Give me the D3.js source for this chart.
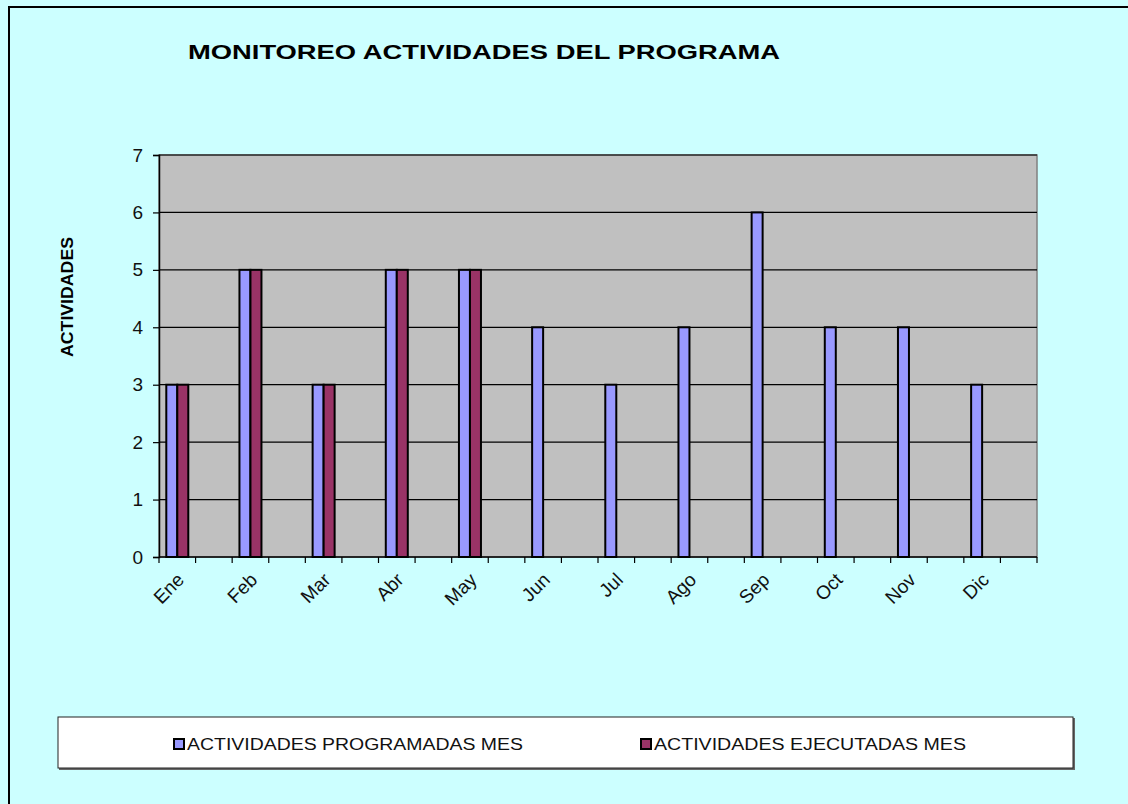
<!DOCTYPE html>
<html>
<head>
    <meta charset="UTF-8">
    <title>Monitoreo</title>
    <style>
        body { margin: 0; background-color: #FFFFFF; }
        svg { display: block; font-family: Arial, "Liberation Sans", sans-serif; }
    </style>
</head>
<body>
    <div id="graph-container"></div>
    <script src="https://cdn.jsdelivr.net/npm/d3@7/dist/d3.min.js"></script>
    <script>
        // data
        let months = ["Ene", "Feb", "Mar", "Abr", "May", "Jun", "Jul", "Ago", "Sep", "Oct", "Nov", "Dic"];
        let programadas = [3, 5, 3, 5, 5, 4, 3, 4, 6, 4, 4, 3];
        let ejecutadas = [3, 5, 3, 5, 5, 0, 0, 0, 0, 0, 0, 0];
        let yTicks = [0, 1, 2, 3, 4, 5, 6, 7];
        let seriesNames = ["ACTIVIDADES PROGRAMADAS MES", "ACTIVIDADES EJECUTADAS MES"];
        let colors = ["#9999FF", "#993366"];

        let W = 1128, H = 804;
        let plot = { left: 159, top: 155, right: 1037, bottom: 557 };

        let svg = d3.select("#graph-container").append("svg")
            .attr("width", W)
            .attr("height", H);

        // chart area background + frame
        svg.append("rect")
            .attr("x", 0).attr("y", 0).attr("width", W).attr("height", H)
            .attr("fill", "#CCFFFF");
        svg.append("path")
            .attr("d", "M9," + H + "V7H" + W)
            .attr("fill", "none").attr("stroke", "#000").attr("stroke-width", 2);

        // each month gets two slots, the second one left empty (like the original sheet)
        let slots = [];
        months.forEach(m => { slots.push(m); slots.push(m + "_"); });

        let x = d3.scaleBand()
            .domain(slots)
            .range([plot.left, plot.right]);
        let inner = d3.scaleBand()
            .domain([0, 1])
            .range([0, 22]);
        let y = d3.scaleLinear()
            .domain([0, 7])
            .range([plot.bottom, plot.top]);

        // plot area
        svg.append("rect")
            .attr("x", plot.left).attr("y", plot.top)
            .attr("width", plot.right - plot.left).attr("height", plot.bottom - plot.top)
            .attr("fill", "#C0C0C0")
            .attr("stroke", "#808080").attr("stroke-width", 1.5);

        // gridlines
        svg.append("g")
            .selectAll("line")
            .data(yTicks.filter(d => d > 0))
            .enter().append("line")
            .attr("x1", plot.left).attr("x2", plot.right)
            .attr("y1", d => y(d)).attr("y2", d => y(d))
            .attr("stroke", "#000").attr("stroke-width", 1.2);

        // bars
        let table = months.map((m, i) => ({ month: m, vals: [programadas[i], ejecutadas[i]] }));
        let groups = svg.append("g").selectAll("g")
            .data(table)
            .enter().append("g")
            .attr("transform", d => "translate(" + (x(d.month) + x.bandwidth() / 2 - 11) + ",0)");
        groups.selectAll("rect")
            .data(d => d.vals.map((v, k) => ({ v: v, k: k })).filter(e => e.v > 0))
            .enter().append("rect")
            .attr("x", e => inner(e.k))
            .attr("y", e => y(e.v))
            .attr("width", inner.bandwidth())
            .attr("height", e => y(0) - y(e.v))
            .attr("fill", e => colors[e.k])
            .attr("stroke", "#000")
            .attr("stroke-width", 2);

        // y axis
        let yAxis = svg.append("g")
            .attr("transform", "translate(" + plot.left + ",0)")
            .call(d3.axisLeft(y).tickValues(yTicks).tickSize(6).tickPadding(10).tickFormat(d3.format("d")));
        yAxis.select(".domain").attr("stroke", "#000").attr("stroke-width", 1.5);
        yAxis.selectAll(".tick line").attr("stroke", "#000").attr("stroke-width", 1.2);
        yAxis.selectAll("text").attr("font-size", 19).attr("fill", "#111").attr("font-family", "Arial, 'Liberation Sans'");

        // x axis
        let xAxis = svg.append("g")
            .attr("transform", "translate(0," + plot.bottom + ")");
        xAxis.append("line")
            .attr("x1", plot.left).attr("x2", plot.right)
            .attr("stroke", "#000").attr("stroke-width", 1.5);
        xAxis.selectAll(".xt")
            .data(slots.concat(["end"]))
            .enter().append("line")
            .attr("x1", d => d === "end" ? plot.right : x(d))
            .attr("x2", d => d === "end" ? plot.right : x(d))
            .attr("y1", 0).attr("y2", 6)
            .attr("stroke", "#000").attr("stroke-width", 1.2);
        xAxis.selectAll(".xl")
            .data(months)
            .enter().append("text")
            .attr("transform", d => "translate(" + (x(d) + x.bandwidth() / 2 + 8) + ",24) rotate(-45)")
            .attr("text-anchor", "end")
            .attr("font-size", 19)
            .attr("fill", "#111")
            .text(d => d);

        // title
        svg.append("text")
            .attr("x", 188).attr("y", 59)
            .attr("font-size", 21).attr("font-weight", "bold")
            .attr("textLength", 592).attr("lengthAdjust", "spacingAndGlyphs")
            .attr("fill", "#000")
            .text("MONITOREO ACTIVIDADES DEL PROGRAMA");

        // y title
        svg.append("text")
            .attr("transform", "translate(73,297) rotate(-90)")
            .attr("text-anchor", "middle")
            .attr("font-size", 17).attr("font-weight", "bold")
            .attr("textLength", 120).attr("lengthAdjust", "spacingAndGlyphs")
            .attr("fill", "#000")
            .text("ACTIVIDADES");

        // legend
        let leg = svg.append("g");
        leg.append("path")
            .attr("d", "M59,769H1074V718")
            .attr("fill", "none").attr("stroke", "#666").attr("stroke-width", 2);
        leg.append("rect")
            .attr("x", 58).attr("y", 717).attr("width", 1015).attr("height", 51)
            .attr("fill", "#FFFFFF").attr("stroke", "#222").attr("stroke-width", 1);
        let legX = [174, 641];
        let legLen = [336, 312];
        seriesNames.forEach((name, i) => {
            leg.append("rect")
                .attr("x", legX[i]).attr("y", 739)
                .attr("width", 10).attr("height", 10)
                .attr("fill", colors[i]).attr("stroke", "#000").attr("stroke-width", 2);
            leg.append("text")
                .attr("x", legX[i] + 13).attr("y", 749.5)
                .attr("font-size", 16)
                .attr("textLength", legLen[i]).attr("lengthAdjust", "spacingAndGlyphs")
                .attr("fill", "#111")
                .text(name);
        });
    </script>
</body>
</html>
